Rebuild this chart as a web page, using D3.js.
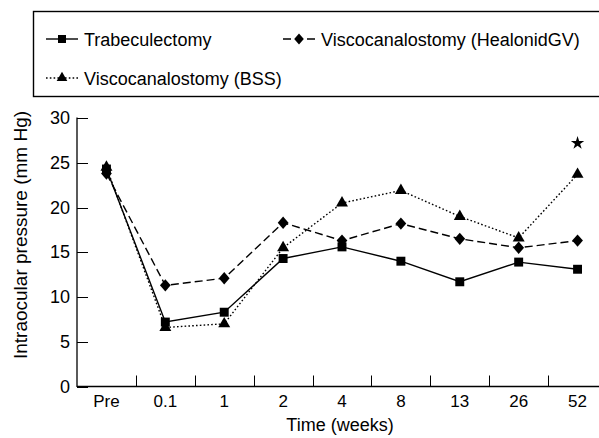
<!DOCTYPE html>
<html><head><meta charset="utf-8">
<script src="https://cdn.jsdelivr.net/npm/d3@7"></script>
<style>
html,body{margin:0;padding:0;background:#fff;}
svg{display:block;font-family:"Liberation Sans",Arial,sans-serif;}
</style></head>
<body>
<svg id="chart" width="599" height="438"></svg>
<script>
const categories = ["Pre","0.1","1","2","4","8","13","26","52"];
const trabeculectomy = [24.3,7.2,8.3,14.3,15.6,14.0,11.7,13.9,13.1];
const viscoHealonid = [23.8,11.3,12.1,18.3,16.3,18.2,16.5,15.5,16.3];
const viscoBSS = [24.5,6.6,7.0,15.5,20.5,21.9,19.0,16.6,23.7];
const yTicks = [0,5,10,15,20,25,30];
const starPoints = [{cat:"52", value:27.2}];
const seriesNames = ["Trabeculectomy","Viscocanalostomy (HealonidGV)","Viscocanalostomy (BSS)"];

const svg = d3.select("#chart");
const x = d3.scaleBand().domain(categories).range([77, 607]);
const y = d3.scaleLinear().domain([0,30]).range([386.5, 118]);
const cx = c => x(c) + x.bandwidth()/2;

const series = [
  {name: seriesNames[0], values: trabeculectomy, dash: null, symbol: d3.symbolSquare, size: 80, tf: ""},
  {name: seriesNames[1], values: viscoHealonid, dash: "8,4", symbol: d3.symbolSquare, size: 58, tf: " scale(1,1.15) rotate(45)"},
  {name: seriesNames[2], values: viscoBSS, dash: "1.6,2.2", symbol: d3.symbolTriangle, size: 62, tf: ""}
];

// Axes
const g = svg.append("g");
g.append("line").attr("x1",77).attr("x2",599).attr("y1",386.5).attr("y2",386.5).attr("stroke","#000").attr("stroke-width",1.3);
g.append("line").attr("x1",77).attr("x2",77).attr("y1",117.5).attr("y2",387).attr("stroke","#000").attr("stroke-width",1.3);
yTicks.forEach(t=>{
  g.append("line").attr("x1",77).attr("x2",88).attr("y1",Math.round(y(t))+0.5).attr("y2",Math.round(y(t))+0.5).attr("stroke","#000").attr("stroke-width",1);
  g.append("text").attr("x",70).attr("y",y(t)+6).attr("text-anchor","end").attr("font-size",18).text(t);
});
categories.slice(1).forEach(c=>{
  const xx = Math.round(x(c))+0.5;
  g.append("line").attr("x1",xx).attr("x2",xx).attr("y1",386).attr("y2",375.5).attr("stroke","#000").attr("stroke-width",1);
});
categories.forEach(c=>{
  g.append("text").attr("x",cx(c)).attr("y",407).attr("text-anchor","middle").attr("font-size",17).text(c);
});
g.append("text").attr("x",340).attr("y",431).attr("text-anchor","middle").attr("font-size",18).text("Time (weeks)");
g.append("text").attr("transform","translate(27,235) rotate(-90)").attr("text-anchor","middle").attr("font-size",19).text("Intraocular pressure (mm Hg)");

// Lines
const line = d3.line().x((d,i)=>cx(categories[i])).y(d=>y(d));
series.forEach(s=>{
  svg.append("path").attr("d",line(s.values)).attr("fill","none").attr("stroke","#000")
    .attr("stroke-width",1.4).attr("stroke-dasharray",s.dash);
});
series.forEach(s=>{
  svg.selectAll(null).data(s.values).enter().append("path")
    .attr("d",d3.symbol().type(s.symbol).size(s.size))
    .attr("transform",(d,i)=>`translate(${cx(categories[i])},${y(d)})${s.tf}`)
    .attr("fill","#000");
});
svg.selectAll(null).data(starPoints).enter().append("path")
  .attr("d",d3.symbol().type(d3.symbolStar).size(55))
  .attr("transform",d=>`translate(${cx(d.cat)},${y(d.value)})`).attr("fill","#000");

// Legend
const lg = svg.append("g");
lg.append("rect").attr("x",33.5).attr("y",11.5).attr("width",600).attr("height",85).attr("fill","none").attr("stroke","#000").attr("stroke-width",1.4);
const legendPos = [{x:46,y:39},{x:283,y:39},{x:46,y:78}];
series.forEach((s,i)=>{
  const p = legendPos[i];
  lg.append("line").attr("x1",p.x).attr("x2",p.x+32).attr("y1",p.y).attr("y2",p.y).attr("stroke","#000").attr("stroke-width",1.4).attr("stroke-dasharray",s.dash);
  lg.append("path").attr("d",d3.symbol().type(s.symbol).size(s.size*0.8))
    .attr("transform",`translate(${p.x+16},${p.y})${s.tf}`).attr("fill","#000");
  lg.append("text").attr("x",p.x+38).attr("y",p.y+6.5).attr("font-size",18).text(s.name);
});
</script>
</body></html>
